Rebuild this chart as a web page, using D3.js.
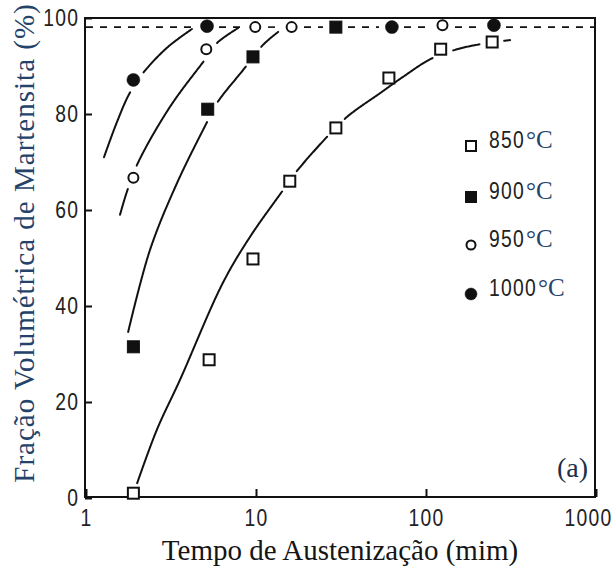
<!DOCTYPE html>
<html>
<head>
<meta charset="utf-8">
<script src="https://cdn.jsdelivr.net/npm/d3@7"></script>
<style>
  body { margin: 0; background: #fff; }
</style>
</head>
<body>
<svg id="chart" width="614" height="571"></svg>
<script>
// measured points (time in min, martensite %)
const t850 = [1.9, 5.3, 9.6, 15.8, 29.5, 60.5, 122, 245];
const v850 = [1.0, 28.8, 49.8, 66.0, 77.1, 87.5, 93.5, 95.0];
const t900 = [1.9, 5.2, 9.6, 29.5];
const v900 = [31.5, 81.0, 91.9, 98.1];
const t950 = [1.9, 5.1, 9.9, 16.2, 125];
const v950 = [66.7, 93.5, 98.1, 98.1, 98.5];
const t1000 = [1.9, 5.15, 63, 251];
const v1000 = [87.1, 98.3, 98.1, 98.5];

// hand drawn trend curves
const c850 = [[2.0, 3.1], [2.61, 14.2], [3.57, 24.6], [6.38, 44.8], [9.22, 54.4],
              [14.2, 63.8], [17.2, 67.9], [26.1, 75.2], [34.3, 79.4], [55, 84.6], [73, 87.7],
              [110, 91.7], [174, 94.0], [312, 95.4]];
const c900 = [[1.77, 34.6], [2.38, 51.7], [3.43, 65.6], [5.15, 78.3], [5.9, 82.3],
              [8.5, 89.4], [11.0, 94.4], [13.5, 97.1]];
const c950 = [[1.585, 59.0], [1.74, 63.8], [2.02, 69.8], [3.12, 81.5], [5.15, 91.9], [5.9, 94.8],
              [7.84, 97.9]];
const c1000 = [[1.276, 71.0], [1.52, 78.3], [1.81, 84.4], [2.22, 89.0], [3.04, 94.0], [4.2, 97.7]];
const saturation = 98.1;

const labels = ["850", "900", "950", "1000"];
const xTicks = [1, 10, 100, 1000];
const yTicks = [0, 20, 40, 60, 80, 100];

const series = [
    {label: labels[0], t: t850, v: v850, curve: c850, shape: "square", filled: false},
    {label: labels[1], t: t900, v: v900, curve: c900, shape: "square", filled: true},
    {label: labels[2], t: t950, v: v950, curve: c950, shape: "circle", filled: false},
    {label: labels[3], t: t1000, v: v1000, curve: c1000, shape: "circle", filled: true}
];

const svg = d3.select("#chart");

const x = d3.scaleLog().domain([1, 1000]).range([86, 596]);
const y = d3.scaleLinear().domain([0, 100]).range([498, 18]);

const ink = "#111";
const navy = "#25436a";
const narrow = '"Liberation Sans", Arial, sans-serif';
const serif = '"Liberation Serif", "Times New Roman", serif';

const line = d3.line()
    .x(d => x(d[0]))
    .y(d => y(d[1]))
    .curve(d3.curveCatmullRom.alpha(0.5));

// every marker position, used to cut gaps in lines that run through them
const allPts = [];
series.forEach(s => s.t.forEach((t, i) => allPts.push([x(t), y(s.v[i])])));

const gLines = svg.append("g");

// draw a line as pieces, leaving a gap round each marker it runs through
function gappedPath(pts, attrs) {
    const tmp = gLines.append("path").attr("d", line(pts)).attr("fill", "none");
    const node = tmp.node();
    const len = node.getTotalLength();
    const samples = d3.range(0, len, 1).concat([len]).map(l => {
        const q = node.getPointAtLength(l);
        return [q.x, q.y];
    });
    tmp.remove();
    const holes = allPts.filter(p =>
        d3.min(samples, q => Math.hypot(q[0] - p[0], q[1] - p[1])) < 6.5);
    const pieces = [];
    let cur = [];
    samples.forEach(q => {
        const hidden = holes.some(p => Math.hypot(q[0] - p[0], q[1] - p[1]) < 12);
        if (hidden) {
            if (cur.length > 1) pieces.push(cur);
            cur = [];
        } else cur.push(q);
    });
    if (cur.length > 1) pieces.push(cur);
    const sel = gLines.selectAll(null).data(pieces).enter().append("path")
        .attr("d", d => "M" + d.map(q => q[0].toFixed(2) + "," + q[1].toFixed(2)).join("L"))
        .attr("fill", "none");
    Object.entries(attrs).forEach(([k, v]) => sel.attr(k, v));
}

// dashed saturation line
gappedPath([[1, saturation], [1000, saturation]],
    {"stroke": ink, "stroke-width": 1.6, "stroke-dasharray": "7,7"});

series.forEach(s => {
    gappedPath(s.curve, {"stroke": ink, "stroke-width": 2, "stroke-linecap": "round"});
});

// frame
svg.append("rect")
    .attr("x", x(1) - 1).attr("y", y(100))
    .attr("width", x(1000) - x(1)).attr("height", y(0) - y(100) - 1)
    .attr("fill", "none").attr("stroke", ink).attr("stroke-width", 2);

// axes with ticks pointing inside
const xAxis = svg.append("g")
    .attr("transform", `translate(0,${y(0) - 1})`)
    .call(d3.axisBottom(x).tickValues(xTicks).tickFormat(d3.format("d"))
        .tickSize(-8).tickPadding(13));
const yAxis = svg.append("g")
    .attr("transform", `translate(${x(1) - 1},0)`)
    .call(d3.axisLeft(y).tickValues(yTicks).tickSize(-7).tickPadding(7));

[xAxis, yAxis].forEach(a => {
    a.select(".domain").remove();
    a.selectAll(".tick line").attr("stroke", ink).attr("stroke-width", 2);
    a.selectAll(".tick text")
        .attr("font-family", narrow)
        .attr("font-size", 23)
        .attr("letter-spacing", 1.5)
        .attr("fill", "#222")
        .attr("transform", "scale(0.84,1)");
});
// the last label sits against the page edge
xAxis.selectAll(".tick text").filter(d => d === 1000)
    .attr("text-anchor", "end").attr("x", 19);

// markers
function drawMarker(g, s, cx, cy, size) {
    if (s.shape === "square") {
        g.append("rect")
            .attr("x", cx - size / 2).attr("y", cy - size / 2)
            .attr("width", size).attr("height", size)
            .attr("fill", s.filled ? ink : "#fff")
            .attr("stroke", ink).attr("stroke-width", s.filled ? 1 : 2);
    } else {
        g.append("circle")
            .attr("cx", cx).attr("cy", cy)
            .attr("r", s.filled ? size / 2 + 0.5 : size / 2 - 0.5)
            .attr("fill", s.filled ? ink : "#fff")
            .attr("stroke", ink).attr("stroke-width", s.filled ? 0.5 : 2);
    }
}

const gMarks = svg.append("g");
series.forEach(s => {
    s.t.forEach((t, i) => drawMarker(gMarks, s, x(t), y(s.v[i]), s.filled ? 12 : 11));
});

// legend
const legY = [148, 199, 247, 296];
const legend = svg.append("g");
series.forEach((s, i) => {
    drawMarker(legend, s, 471, legY[i] - 2, s.filled ? 11 : 10);
    const g = legend.append("g")
        .attr("transform", `translate(489,${legY[i]})`);
    const num = g.append("text")
        .attr("font-family", narrow)
        .attr("font-size", 23)
        .attr("letter-spacing", 1.5)
        .attr("fill", "#222")
        .attr("transform", "scale(0.84,1)")
        .text(s.label);
    const w = num.node().getComputedTextLength() * 0.84;
    g.append("text")
        .attr("x", w + 1)
        .attr("font-family", serif)
        .attr("font-size", 25)
        .attr("fill", navy)
        .text("°C");
});

// panel tag
svg.append("text")
    .attr("x", 588).attr("y", 477)
    .attr("text-anchor", "end")
    .attr("font-family", serif)
    .attr("font-size", 28)
    .attr("fill", "#1d2f4a")
    .text("(a)");

// axis titles
svg.append("text")
    .attr("x", 340).attr("y", 560)
    .attr("text-anchor", "middle")
    .attr("font-family", serif)
    .attr("font-size", 29)
    .attr("fill", "#151515")
    .text("Tempo de Austenização (mim)");

svg.append("text")
    .attr("transform", "translate(34,243) rotate(-90)")
    .attr("text-anchor", "middle")
    .attr("font-family", serif)
    .attr("font-size", 29)
    .attr("letter-spacing", 1)
    .attr("fill", navy)
    .text("Fração Volumétrica de Martensita (%)");
</script>
</body>
</html>
